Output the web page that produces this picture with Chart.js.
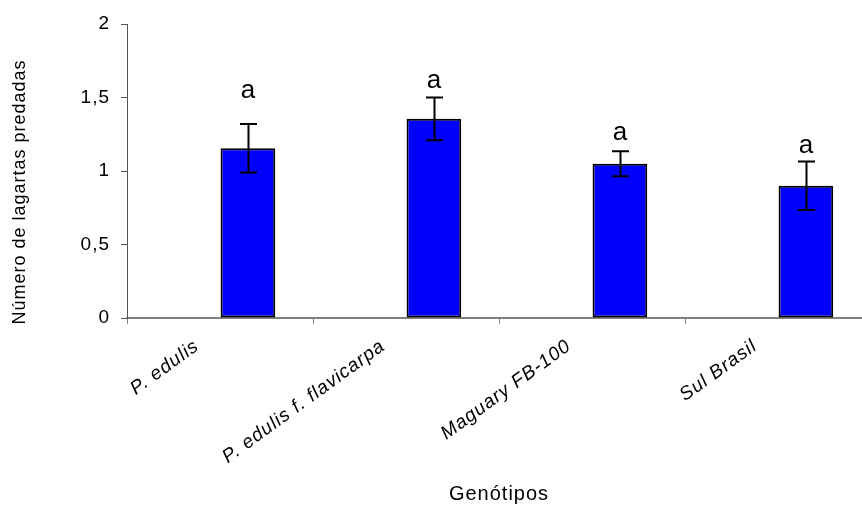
<!DOCTYPE html>
<html lang="pt">
<head>
    <meta charset="UTF-8">
    <title>Número de lagartas predadas por genótipo</title>
    <script src="https://cdn.jsdelivr.net/npm/chart.js"></script>
    <style>
        html, body { margin: 0; padding: 0; background: #fff; overflow: hidden; }
        #wrap { width: 880px; height: 506px; position: relative; }
    </style>
</head>
<body>
    <div id="wrap"><canvas id="predChart"></canvas></div>

    <script>
        // dados
        const genotipos = ["P. edulis", "P. edulis f. flavicarpa", "Maguary FB-100", "Sul Brasil"];
        const medias = [1.155, 1.355, 1.05, 0.9];
        const erros = [0.165, 0.145, 0.085, 0.165];
        const letras = ["a", "a", "a", "a"];
        const posLetras = [1.495, 1.563, 1.209, 1.122];   // linha de base das letras (unidades do eixo y)
        const ticksY = [0, 0.5, 1, 1.5, 2];

        const fonte = "'Liberation Sans', Arial, sans-serif";

        // texto um pouco espaçado, como no Excel
        const espacamento = {
            id: "espacamento",
            beforeUpdate(chart) { chart.ctx.letterSpacing = "1px"; },
            beforeDraw(chart) { chart.ctx.letterSpacing = "1px"; }
        };

        // barras de erro + letras
        const errorBars = {
            id: "errorBars",
            afterDatasetsDraw(chart) {
                const ctx = chart.ctx;
                const y = chart.scales.y;
                const meta = chart.getDatasetMeta(1);
                ctx.save();
                ctx.strokeStyle = "#000";
                ctx.lineWidth = 2;
                meta.data.forEach((bar, i) => {
                    let x = Math.round(bar.x) + 0.5;
                    let yTop = y.getPixelForValue(medias[i] + erros[i]);
                    let yBot = y.getPixelForValue(medias[i] - erros[i]);
                    ctx.beginPath();
                    ctx.moveTo(x, yTop); ctx.lineTo(x, yBot);
                    ctx.moveTo(x - 8.5, yTop); ctx.lineTo(x + 8.5, yTop);
                    ctx.moveTo(x - 8.5, yBot); ctx.lineTo(x + 8.5, yBot);
                    ctx.stroke();

                    ctx.fillStyle = "#000";
                    ctx.letterSpacing = "0px";
                    ctx.font = "26px " + fonte;
                    ctx.textAlign = "center";
                    ctx.textBaseline = "alphabetic";
                    ctx.fillText(letras[i], bar.x, y.getPixelForValue(posLetras[i]));
                });
                ctx.restore();
            }
        };

        new Chart(document.getElementById("predChart"), {
            type: "bar",
            data: {
                labels: genotipos,
                datasets: [
                    {   // série vazia (espaço à esquerda, como no Excel)
                        label: "",
                        data: genotipos.map(() => null)
                    },
                    {
                        label: "Número de lagartas predadas",
                        data: medias,
                        backgroundColor: "#0000ff",
                        borderColor: "#000",
                        borderWidth: 2,
                        borderSkipped: false
                    }
                ]
            },
            options: {
                responsive: true,
                maintainAspectRatio: false,
                animation: false,
                categoryPercentage: 0.6,
                barPercentage: 0.98,
                layout: { padding: { top: 24, right: 9, left: 0, bottom: 0 } },
                plugins: {
                    legend: { display: false },
                    tooltip: { enabled: false }
                },
                scales: {
                    x: {
                        grid: { drawOnChartArea: false, offset: true, tickLength: 6, color: "#808080", lineWidth: 1 },
                        border: { color: "#808080", width: 2 },
                        ticks: {
                            minRotation: 36,
                            maxRotation: 36,
                            labelOffset: -23,
                            padding: 11,
                            color: "#000",
                            font: { family: fonte, size: 19, style: "italic" }
                        },
                        title: {
                            display: true,
                            text: "Genótipos",
                            color: "#000",
                            font: { family: fonte, size: 20 },
                            padding: { top: 0, bottom: 0 }
                        },
                        afterFit(scale) { scale.height = 188; }
                    },
                    y: {
                        min: 0,
                        max: 2,
                        afterBuildTicks(scale) { scale.ticks = ticksY.map(v => ({ value: v })); },
                        ticks: {
                            color: "#000",
                            padding: 11,
                            font: { family: fonte, size: 19 },
                            callback: v => String(v).replace(".", ",")
                        },
                        grid: { drawOnChartArea: false, tickLength: 6, color: "#555" },
                        border: { color: "#555", width: 1 },
                        title: {
                            display: true,
                            // espaços no fim: o texto fica um pouco abaixo do centro, como no original
                            text: "Número de lagartas predadas" + "\u00a0".repeat(7),
                            color: "#000",
                            font: { family: fonte, size: 18 },
                            padding: { top: 9, bottom: 0 }
                        },
                        afterFit(scale) { scale.width = 127; }
                    }
                }
            },
            plugins: [espacamento, errorBars]
        });
    </script>
</body>
</html>
